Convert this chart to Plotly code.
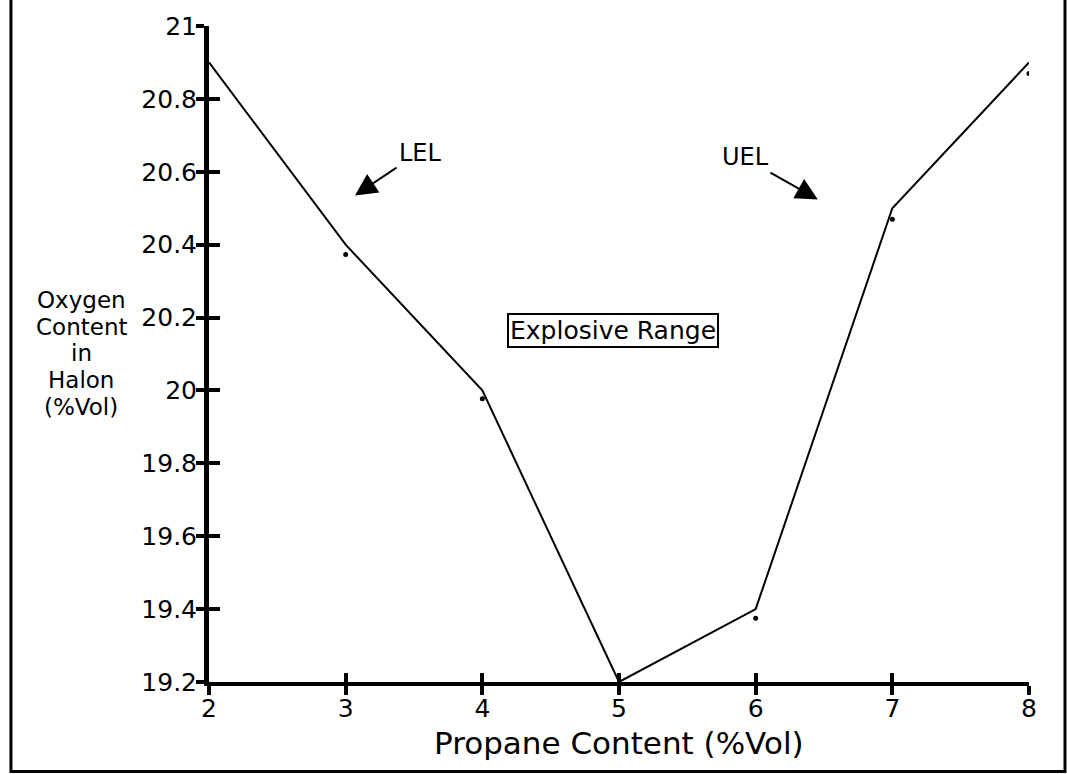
import plotly.graph_objects as go

# Propane content vs oxygen content in Halon (flammability boundary)
propane = [2, 3, 4, 5, 6, 7, 8]
oxygen = [20.9, 20.4, 20.0, 19.2, 19.4, 20.5, 20.9]

# measured points plotted as small dots
dot_propane = [3, 4, 6, 7, 8]
dot_oxygen = [20.373, 19.977, 19.375, 20.47, 20.87]

x_ticks = [2, 3, 4, 5, 6, 7, 8]
y_ticks = [19.2, 19.4, 19.6, 19.8, 20.0, 20.2, 20.4, 20.6, 20.8, 21.0]
y_tick_text = ["19.2", "19.4", "19.6", "19.8", "20", "20.2", "20.4", "20.6", "20.8", "21"]

y_title_lines = ["Oxygen", "Content", "in", "Halon", "(%Vol)"]
y_title_pos = [0.5827, 0.5417, 0.5008, 0.4598, 0.4188]

FONT = "DejaVu Sans"

fig = go.Figure()
fig.add_trace(go.Scatter(
    x=propane, y=oxygen, mode="lines",
    line=dict(color="black", width=2), showlegend=False, hoverinfo="skip",
))
fig.add_trace(go.Scatter(
    x=dot_propane, y=dot_oxygen, mode="markers",
    marker=dict(color="black", size=5), showlegend=False, hoverinfo="skip",
))
# invisible trace so the overlay axes (inner tick halves) are drawn
fig.add_trace(go.Scatter(
    x=[2, 8], y=[19.2, 21], xaxis="x2", yaxis="y2", mode="markers",
    marker=dict(opacity=0), showlegend=False, hoverinfo="skip",
))

axis_common = dict(showgrid=False, zeroline=False, showline=True,
                   linecolor="black", tickcolor="black", tickwidth=4)

fig.update_layout(
    width=1067, height=774,
    margin=dict(l=209, r=38, t=23, b=92),
    plot_bgcolor="white", paper_bgcolor="white",
    font=dict(family=FONT, color="black"),
    xaxis=dict(range=[2, 8], tickvals=x_ticks, ticks="outside", ticklen=9,
               ticklabelstandoff=-8,
               linewidth=4, tickfont=dict(size=25, family=FONT), **axis_common),
    yaxis=dict(range=[19.2, 21], tickvals=y_ticks, ticktext=y_tick_text,
               ticks="outside", ticklen=8, linewidth=5, ticklabelstandoff=-6,
               tickfont=dict(size=25, family=FONT), **axis_common),
    xaxis2=dict(range=[2, 8], tickvals=x_ticks, ticks="inside", ticklen=9,
                showticklabels=False, overlaying="x", anchor="y2",
                linewidth=4, **axis_common),
    yaxis2=dict(range=[19.2, 21], tickvals=y_ticks, ticks="inside", ticklen=11,
                showticklabels=False, overlaying="y", anchor="x2",
                linewidth=5, **axis_common),
)

annotations = []
for line, yy in zip(y_title_lines, y_title_pos):
    annotations.append(dict(x=-0.156, y=yy, xref="paper", yref="paper", text=line,
                            showarrow=False, font=dict(size=23, family=FONT),
                            xanchor="center", yanchor="middle"))

annotations.append(dict(x=0.5, y=-0.093, xref="paper", yref="paper",
                        text="Propane Content (%Vol)", showarrow=False,
                        font=dict(size=31, family=FONT),
                        xanchor="center", yanchor="middle"))

annotations.append(dict(x=4.955, y=20.165, xref="x", yref="y",
                        text="Explosive Range", showarrow=False,
                        font=dict(size=25, family=FONT),
                        bordercolor="black", borderwidth=2, borderpad=1,
                        xanchor="center", yanchor="middle"))

annotations.append(dict(x=3.551, y=20.652, xref="x", yref="y", text="LEL",
                        showarrow=False, font=dict(size=24, family=FONT)))
annotations.append(dict(x=5.928, y=20.641, xref="x", yref="y", text="UEL",
                        showarrow=False, font=dict(size=24, family=FONT)))

# arrows pointing at the explosive limits
annotations.append(dict(x=3.068, y=20.535, ax=3.383, ay=20.614,
                        xref="x", yref="y", axref="x", ayref="y", text="",
                        showarrow=True, arrowhead=2, arrowsize=2.2,
                        arrowwidth=2, arrowcolor="black"))
annotations.append(dict(x=6.455, y=20.524, ax=6.097, ay=20.6,
                        xref="x", yref="y", axref="x", ayref="y", text="",
                        showarrow=True, arrowhead=2, arrowsize=2.2,
                        arrowwidth=2, arrowcolor="black"))

fig.update_layout(annotations=annotations)

# outer frame around the figure
fig.add_shape(type="rect", xref="paper", yref="paper",
              x0=-0.2415, x1=1.0439, y0=-0.1366, y1=1.05,
              line=dict(color="black", width=3))

fig.write_html("out.html")
